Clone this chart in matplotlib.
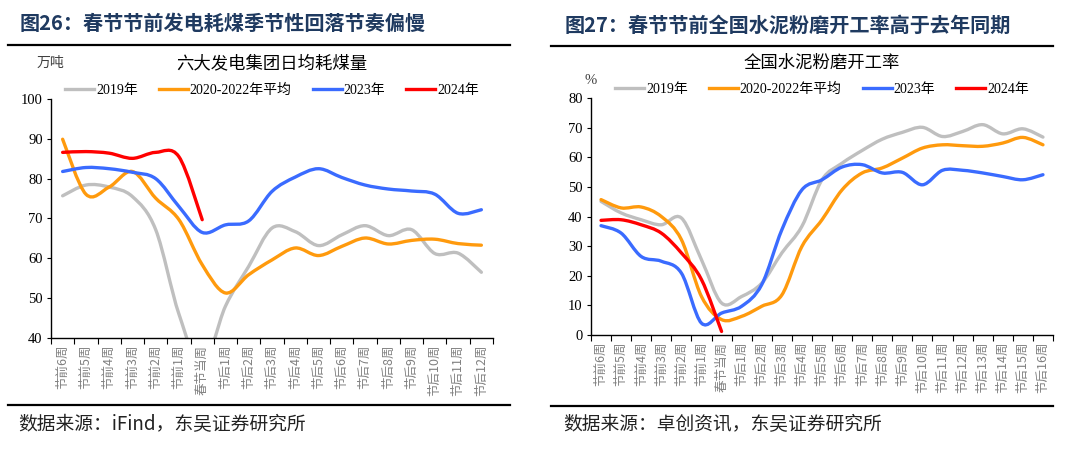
import numpy as np
import matplotlib
matplotlib.use("Agg")
from matplotlib import pyplot as plt
from matplotlib.path import Path
from matplotlib.patches import PathPatch
from matplotlib.lines import Line2D

plt.rcParams['font.family'] = ['Liberation Serif', 'Noto Sans CJK SC', 'DejaVu Sans']

# ---- data: 六大发电集团日均耗煤量 (万吨)
coal_weeks = ['节前6周', '节前5周', '节前4周', '节前3周', '节前2周', '节前1周', '春节当周'] + \
             ['节后%d周' % i for i in range(1, 13)]
coal_2019 = [75.7, 78.4, 77.9, 75.5, 67.2, 46.0, 33.0, 48.0, 58.0, 67.6, 66.7, 63.2,
             65.9, 68.2, 65.7, 67.2, 61.2, 61.3, 56.5]
coal_avg = [89.9, 76.1, 77.9, 81.8, 75.1, 69.7, 58.4, 51.3, 55.9, 59.6, 62.6, 60.7,
            63.0, 65.1, 63.6, 64.5, 64.8, 63.7, 63.3]
coal_2023 = [81.8, 82.8, 82.5, 81.6, 80.0, 73.0, 66.5, 68.4, 69.4, 76.8, 80.4, 82.5,
             80.3, 78.4, 77.4, 76.9, 76.1, 71.3, 72.2]
coal_2024 = [86.6, 86.8, 86.4, 85.1, 86.6, 85.5, 69.7]

# ---- data: 全国水泥粉磨开工率 (%)
cem_weeks = ['节前6周', '节前5周', '节前4周', '节前3周', '节前2周', '节前1周', '春节当周'] + \
            ['节后%d周' % i for i in range(1, 17)]
cem_2019 = [45.1, 41.2, 38.9, 37.2, 39.5, 25.4, 10.8, 13.0, 17.5, 27.7, 36.7, 52.4,
            58.0, 62.3, 66.1, 68.4, 70.1, 67.0, 68.7, 71.0, 67.9, 69.6, 66.8]
cem_avg = [45.7, 42.9, 43.2, 40.0, 32.2, 13.0, 5.2, 6.3, 9.7, 13.5, 29.9, 38.9,
           49.0, 54.7, 56.4, 59.7, 63.1, 64.2, 63.9, 63.7, 64.8, 66.7, 64.2]
cem_2023 = [36.9, 34.4, 26.5, 24.9, 20.9, 4.0, 7.4, 9.7, 17.0, 35.5, 49.0, 52.4,
            56.7, 57.5, 54.7, 54.9, 50.7, 55.6, 55.6, 54.7, 53.5, 52.4, 54.1]
cem_2024 = [38.7, 38.9, 37.2, 34.4, 27.7, 18.7, 1.2]

names = ['2019年', '2020-2022年平均', '2023年', '2024年']
colors = ['#BFBFBF', '#FF9A0D', '#3A6BFF', '#FF0000']
navy = '#1F3A60'
CJK = ['Noto Sans CJK SC', 'DejaVu Sans']


def smooth_path(y):
    # Catmull-Rom segments written as cubic Bezier control points
    x = np.arange(len(y), dtype=float)
    p = np.column_stack([x, np.asarray(y, dtype=float)])
    verts = [p[0]]
    codes = [Path.MOVETO]
    n = len(p)
    for i in range(n - 1):
        p0 = p[i - 1] if i > 0 else p[i]
        p3 = p[i + 2] if i + 2 < n else p[i + 1]
        c1 = p[i] + (p[i + 1] - p0) / 6.0
        c2 = p[i + 1] - (p3 - p[i]) / 6.0
        verts += [c1, c2, p[i + 1]]
        codes += [Path.CURVE4] * 3
    return Path(verts, codes)


def draw_panel(ax, weeks, series, ylim, title):
    n = len(weeks)
    for s, c in zip(series, colors):
        ax.add_patch(PathPatch(smooth_path(s), fill=False, ec=c, lw=2.4,
                               capstyle='round', joinstyle='round'))
    ax.set_xlim(-0.5, n - 0.5)
    ax.set_ylim(*ylim)
    ax.set_yticks(np.arange(ylim[0], ylim[1] + 1, 10))
    ax.tick_params(axis='y', labelsize=10.5, length=3, direction='out', pad=3)
    ax.set_xticks(np.arange(n + 1) - 0.5)
    ax.set_xticklabels([])
    ax.tick_params(axis='x', which='major', length=4, direction='out')
    ax.set_xticks(np.arange(n), minor=True)
    ax.set_xticklabels(weeks, minor=True, rotation=90, va='top', ha='center',
                       family=CJK, fontsize=9, color='#808080')
    ax.tick_params(axis='x', which='minor', length=0, pad=5)
    for side in ['top', 'right']:
        ax.spines[side].set_visible(False)
    for side in ['left', 'bottom']:
        ax.spines[side].set_linewidth(1.0)
    handles = [Line2D([], [], color=c, lw=2.4) for c in colors]
    ax.legend(handles, names, loc='center', bbox_to_anchor=(0.5, 1.035), ncol=4,
              frameon=False, handlelength=2.1, handletextpad=0.15,
              columnspacing=1.5, prop={'family': ['Liberation Serif', 'Noto Sans CJK SC'],
                                       'size': 10})
    ax.text(0.5, 1.15, title, transform=ax.transAxes, ha='center', va='center',
            family=CJK, fontsize=12.5)
    return ax


fig = plt.figure(figsize=(10.8, 4.5), dpi=100)

ax1 = fig.add_axes([51 / 1080, 1 - 338 / 450, 442 / 1080, 239 / 450])
draw_panel(ax1, coal_weeks, [coal_2019, coal_avg, coal_2023, coal_2024], (40, 100),
           '六大发电集团日均耗煤量')
ax2 = fig.add_axes([591 / 1080, 1 - 335 / 450, 462 / 1080, 237 / 450])
draw_panel(ax2, cem_weeks, [cem_2019, cem_avg, cem_2023, cem_2024], (0, 80),
           '全国水泥粉磨开工率')

fig.text(50 / 1080, 1 - 63 / 450, '万吨', family=CJK, fontsize=10, ha='center',
         va='center', color='#404040')
fig.text(591 / 1080, 1 - 80 / 450, '%', family=['Liberation Serif'], fontsize=10.5,
         ha='center', va='center', color='#404040')

# headline, rules and source lines
fig.text(20 / 1080, 1 - 23 / 450, '图26：春节节前发电耗煤季节性回落节奏偏慢', family=CJK,
         fontsize=14.5, weight='bold', color=navy, va='center', ha='left')
fig.text(565 / 1080, 1 - 25 / 450, '图27：春节节前全国水泥粉磨开工率高于去年同期', family=CJK,
         fontsize=14.5, weight='bold', color=navy, va='center', ha='left')
for x0, x1, yt, yb in [(8, 510, 45, 405), (551, 1053, 46, 406)]:
    for yy in (yt, yb):
        fig.add_artist(Line2D([x0 / 1080, x1 / 1080], [1 - yy / 450, 1 - yy / 450],
                              color='black', lw=1.6, transform=fig.transFigure))
fig.text(18 / 1080, 1 - 425 / 450, '数据来源：iFind，东吴证券研究所', family=CJK,
         fontsize=13.5, va='center', ha='left', color='#222222')
fig.text(563 / 1080, 1 - 425 / 450, '数据来源：卓创资讯，东吴证券研究所', family=CJK,
         fontsize=13.5, va='center', ha='left', color='#222222')

fig.savefig('out.png', dpi=100)
